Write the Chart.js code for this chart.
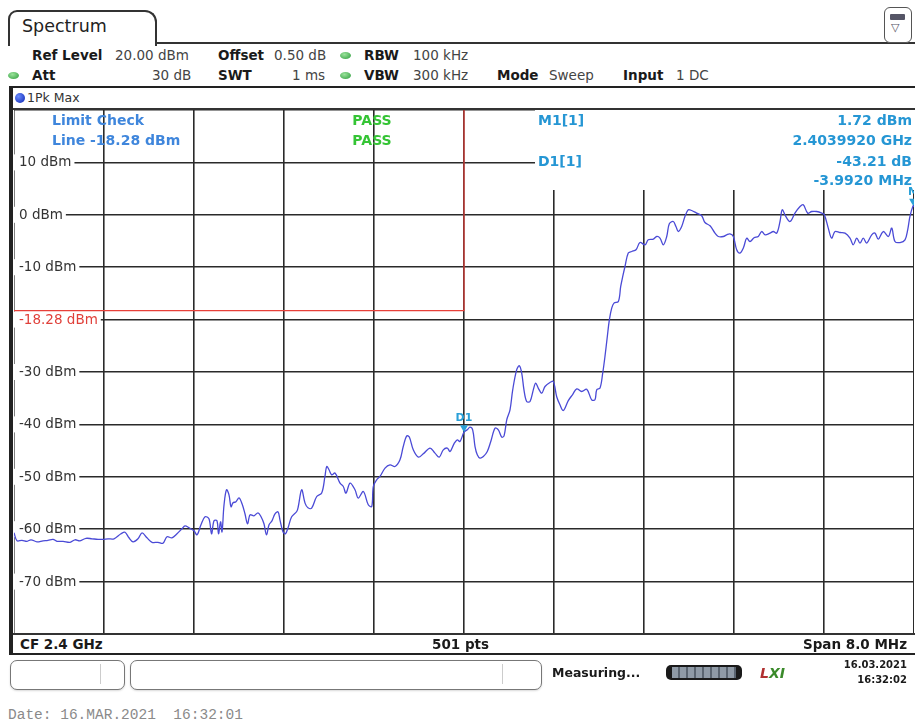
<!DOCTYPE html>
<html>
<head>
<meta charset="utf-8">
<script src="https://cdn.jsdelivr.net/npm/chart.js@4"></script>
<style>
  body { margin: 0; width: 915px; height: 723px; background: #fff; position: relative; overflow: hidden;
         font-family: "DejaVu Sans", Verdana, sans-serif; color: #222; }
  .t { position: absolute; white-space: nowrap; line-height: 1; }
  .b { font-weight: bold; color: #1a1a1a; }
  .v { color: #444; }
  .h { font-size: 13.5px; }
  .dot { position: absolute; width: 11px; height: 7px; border-radius: 50%;
         background: radial-gradient(ellipse at 40% 35%, #9be39b, #2a9a3a); }
  #tab { position: absolute; left: 8px; top: 10px; width: 145px; height: 34px; border: 2px solid #333;
         border-bottom: none; border-radius: 9px 12px 0 0; background: #fff; }
  #plot { position: absolute; left: 14px; top: 110px; width: 900px; height: 524px; }
  .box { position: absolute; border: 1px solid #777; border-radius: 7px; background: #fff;
         box-shadow: 0 1px 2px rgba(0,0,0,0.15); }
</style>
</head>
<body>
<!-- tab + header -->
<div style="position:absolute;left:150px;top:42px;width:765px;height:2px;background:#333"></div>
<div id="tab"></div>
<div class="t" style="left:22px;top:18px;font-size:17.5px;color:#222">Spectrum</div>
<div style="position:absolute;left:884px;top:7px;width:26px;height:34px;border:1.5px solid #555;border-radius:6px;background:#fff"></div>
<div style="position:absolute;left:890px;top:14px;width:15px;height:6px;background:#556;border-radius:1px"></div>
<div class="t" style="left:891px;top:22px;font-size:11px;color:#556">&#9661;</div>

<div class="t h b" style="left:32px;top:49px">Ref Level</div>
<div class="t h v" style="left:115px;top:49px">20.00 dBm</div>
<div class="t h b" style="left:218px;top:49px">Offset</div>
<div class="t h v" style="left:274px;top:49px">0.50 dB</div>
<div class="dot" style="left:340px;top:52px"></div>
<div class="t h b" style="left:364px;top:49px">RBW</div>
<div class="t h v" style="left:413px;top:49px">100 kHz</div>

<div class="dot" style="left:8px;top:72px"></div>
<div class="t h b" style="left:32px;top:69px">Att</div>
<div class="t h v" style="left:152px;top:69px">30 dB</div>
<div class="t h b" style="left:218px;top:69px">SWT</div>
<div class="t h v" style="left:292px;top:69px">1 ms</div>
<div class="dot" style="left:340px;top:72px"></div>
<div class="t h b" style="left:364px;top:69px">VBW</div>
<div class="t h v" style="left:413px;top:69px">300 kHz</div>
<div class="t h b" style="left:497px;top:69px">Mode</div>
<div class="t h v" style="left:549px;top:69px">Sweep</div>
<div class="t h b" style="left:623px;top:69px">Input</div>
<div class="t h v" style="left:676px;top:69px">1 DC</div>

<!-- trace window frame -->
<div style="position:absolute;left:9px;top:86px;width:906px;height:2px;background:#222"></div>
<div style="position:absolute;left:9px;top:86px;width:4px;height:568px;background:#222"></div>
<div style="position:absolute;left:15px;top:93px;width:10px;height:10px;border-radius:50%;background:radial-gradient(circle at 35% 35%, #6a8cff, #0a22b0)"></div>
<div class="t" style="left:27px;top:92px;font-size:12.5px;color:#333">1Pk Max</div>
<div style="position:absolute;left:13px;top:108px;width:902px;height:2px;background:#333"></div>

<canvas id="plot" width="900" height="524"></canvas>

<div style="position:absolute;left:13px;top:633px;width:902px;height:2px;background:#333"></div>
<div style="position:absolute;left:9px;top:653px;width:906px;height:2px;background:#222"></div>
<div class="t b" style="left:20px;top:638px;font-size:13.5px">CF 2.4 GHz</div>
<div class="t b" style="left:432px;top:638px;font-size:13.5px">501 pts</div>
<div class="t b" style="right:8px;top:638px;font-size:13.5px">Span 8.0 MHz</div>

<!-- status bar -->
<div class="box" style="left:10px;top:660px;width:113px;height:28px"></div>
<div style="position:absolute;left:100px;top:664px;width:1px;height:20px;background:#ccc"></div>
<div class="box" style="left:130px;top:660px;width:410px;height:28px"></div>
<div style="position:absolute;left:502px;top:664px;width:1px;height:20px;background:#ccc"></div>
<div class="t b" style="left:552px;top:667px;font-size:12.5px">Measuring...</div>
<div style="position:absolute;left:666px;top:665px;width:76px;height:15px;border-radius:5px;background:#1a1a1a"></div>
<div style="position:absolute;left:672px;top:667px;width:64px;height:11px;background:repeating-linear-gradient(90deg,#8f9aa6 0 6px,#5a6470 6px 8px)"></div>
<div class="t" style="left:760px;top:666px;font-size:14px;font-weight:bold;font-style:italic;color:#3a8a2a"><span style="color:#b03030">L</span>XI</div>
<div class="t b" style="right:8px;top:660px;font-size:10px">16.03.2021</div>
<div class="t b" style="right:8px;top:675px;font-size:10px">16:32:02</div>

<div class="t" style="left:8px;top:708px;font-family:'Liberation Mono','DejaVu Sans Mono',monospace;font-size:14.5px;color:#8a8a8a">Date: 16.MAR.2021&nbsp; 16:32:01</div>

<script>
// sweep: 2.396 .. 2.404 GHz (CF 2.4 GHz, span 8 MHz), values in MHz / dBm
const freqMHz = [
  2396.000, 2396.027, 2396.071, 2396.116, 2396.151, 2396.204, 2396.258, 2396.302, 2396.347, 2396.382,
  2396.436, 2396.498, 2396.542, 2396.587, 2396.640, 2396.693, 2396.747, 2396.791, 2396.836, 2396.889,
  2396.951, 2396.987, 2397.022, 2397.058, 2397.102, 2397.138, 2397.182, 2397.227, 2397.280, 2397.324,
  2397.360, 2397.404, 2397.449, 2397.493, 2397.520, 2397.556, 2397.600, 2397.627, 2397.662, 2397.698,
  2397.733, 2397.756, 2397.778, 2397.804, 2397.818, 2397.836, 2397.849, 2397.867, 2397.889, 2397.911,
  2397.929, 2397.947, 2397.973, 2398.000, 2398.027, 2398.053, 2398.076, 2398.098, 2398.133, 2398.169,
  2398.196, 2398.222, 2398.244, 2398.267, 2398.293, 2398.320, 2398.347, 2398.364, 2398.391, 2398.413,
  2398.436, 2398.468, 2398.513, 2398.527, 2398.557, 2398.587, 2398.613, 2398.646, 2398.691, 2398.735,
  2398.764, 2398.780, 2398.800, 2398.824, 2398.853, 2398.898, 2398.927, 2398.951, 2398.987, 2399.031,
  2399.060, 2399.105, 2399.149, 2399.180, 2399.194, 2399.224, 2399.253, 2399.298, 2399.342, 2399.387,
  2399.431, 2399.460, 2399.491, 2399.514, 2399.549, 2399.594, 2399.638, 2399.698, 2399.742, 2399.780,
  2399.816, 2399.852, 2399.876, 2399.911, 2399.940, 2399.964, 2400.000, 2400.029, 2400.053, 2400.077,
  2400.098, 2400.118, 2400.142, 2400.172, 2400.207, 2400.238, 2400.276, 2400.305, 2400.335, 2400.356,
  2400.380, 2400.409, 2400.433, 2400.468, 2400.492, 2400.513, 2400.533, 2400.557, 2400.587, 2400.616,
  2400.637, 2400.660, 2400.691, 2400.720, 2400.764, 2400.794, 2400.824, 2400.853, 2400.883, 2400.927,
  2400.964, 2401.002, 2401.046, 2401.091, 2401.135, 2401.164, 2401.180, 2401.209, 2401.233, 2401.253,
  2401.274, 2401.292, 2401.313, 2401.333, 2401.372, 2401.393, 2401.411, 2401.431, 2401.460, 2401.491,
  2401.529, 2401.564, 2401.609, 2401.638, 2401.683, 2401.713, 2401.742, 2401.772, 2401.802, 2401.825,
  2401.860, 2401.884, 2401.905, 2401.935, 2401.964, 2401.994, 2402.024, 2402.068, 2402.113, 2402.142,
  2402.187, 2402.231, 2402.260, 2402.305, 2402.335, 2402.364, 2402.394, 2402.424, 2402.453, 2402.483,
  2402.513, 2402.542, 2402.578, 2402.616, 2402.646, 2402.676, 2402.720, 2402.749, 2402.780, 2402.809,
  2402.829, 2402.860, 2402.898, 2402.942, 2402.987, 2403.016, 2403.055, 2403.091, 2403.135, 2403.180,
  2403.203, 2403.238, 2403.268, 2403.298, 2403.342, 2403.387, 2403.431, 2403.460, 2403.491, 2403.520,
  2403.549, 2403.580, 2403.624, 2403.653, 2403.683, 2403.727, 2403.772, 2403.802, 2403.831, 2403.876,
  2403.920, 2403.944, 2403.964, 2403.992, 2404.000
];
const levelDbm = [
  -60.69, -62.21, -62.12, -62.31, -62.02, -62.40, -62.21, -62.12, -61.93, -62.31,
  -62.31, -62.50, -62.02, -62.21, -61.74, -61.83, -61.93, -61.93, -61.83, -61.83,
  -60.88, -60.59, -61.64, -62.40, -61.83, -60.69, -61.64, -62.50, -62.50, -62.69,
  -61.45, -61.64, -60.88, -59.92, -59.35, -59.73, -60.31, -61.07, -59.16, -57.63,
  -58.02, -60.88, -58.40, -58.40, -60.88, -58.59, -60.50, -55.34, -52.48, -53.44,
  -55.73, -54.96, -54.77, -54.01, -55.15, -57.06, -58.97, -57.25, -57.44, -56.87,
  -57.63, -58.97, -61.07, -59.16, -58.40, -57.06, -56.68, -58.21, -60.50, -60.88,
  -59.73, -57.63, -56.62, -55.67, -52.48, -55.02, -55.92, -55.97, -53.76, -53.11,
  -49.94, -48.03, -48.66, -49.62, -49.29, -51.20, -51.85, -53.11, -51.20, -52.48,
  -54.06, -52.81, -55.34, -55.67, -51.85, -50.57, -49.94, -48.34, -47.71, -48.03,
  -46.76, -44.22, -42.18, -42.42, -44.85, -46.24, -45.61, -44.52, -45.48, -46.24,
  -44.85, -44.52, -45.17, -43.70, -42.94, -43.26, -41.49, -41.03, -40.52, -41.03,
  -44.22, -45.80, -46.43, -46.13, -45.17, -43.26, -40.71, -41.03, -42.42, -42.18,
  -39.12, -37.21, -33.40, -29.58, -28.82, -30.21, -33.40, -35.63, -35.63, -33.40,
  -32.12, -33.07, -34.03, -32.77, -32.00, -31.81, -34.73, -36.26, -37.35, -35.46,
  -34.35, -33.21, -33.72, -33.30, -35.31, -35.31, -33.40, -33.07, -30.21, -27.04,
  -23.23, -20.04, -17.81, -16.85, -16.55, -13.68, -11.77, -9.87, -7.31, -7.00,
  -6.68, -5.29, -5.73, -4.77, -4.64, -4.14, -4.45, -5.73, -4.14, -1.72,
  -1.28, -2.23, -3.19, -2.23, -0.32, 0.95, 0.82, 0.32, -0.19, -1.47,
  -2.10, -3.49, -4.14, -4.14, -3.82, -3.63, -4.14, -6.68, -7.31, -6.35,
  -4.45, -5.10, -4.39, -4.14, -3.19, -3.82, -3.49, -3.19, -3.49, -1.28,
  0.95, -0.32, -1.28, 0.32, 1.58, 1.91, 0.32, 0.63, 0.63, 0.32,
  0.00, -2.54, -4.45, -3.19, -3.38, -3.49, -4.45, -5.73, -4.45, -5.40,
  -4.45, -5.40, -3.82, -3.49, -4.64, -3.19, -4.14, -2.54, -5.10, -5.29,
  -4.77, -2.86, -0.32, 1.72, 1.55
];

// limit line: -18.28 dBm up to the centre frequency, open above it
const limitFreq = [2396.0, 2400.0, 2400.0];
const limitLevel = [-18.28, -18.28, 20];

const yTickValues = [10, 0, -10, -20, -30, -40, -50, -60, -70];
const yTickLabels = ['10 dBm', '0 dBm', '-10 dBm', '-18.28 dBm', '-30 dBm', '-40 dBm', '-50 dBm', '-60 dBm', '-70 dBm'];

const markerNames = ['D1', 'M1'];
const markerFreq = [2400.000, 2403.992];
const markerLevel = [-41.49, 1.72];

const readoutLeft = ['M1[1]', 'D1[1]'];
const readoutRight = ['1.72 dBm', '2.4039920 GHz', '-43.21 dB', '-3.9920 MHz'];

const ref = document.getElementById('plot');

const overlay = {
  id: 'overlay',
  beforeDatasetsDraw(chart) {
    const { ctx, chartArea: a, scales: { y } } = chart;
    ctx.save();
    // white panel behind the marker readout (grid is hidden there)
    ctx.fillStyle = '#fff';
    ctx.fillRect(a.left + 521, a.top, a.right - a.left - 521, 80);

    // level labels sit on the grid lines
    ctx.font = '13.5px "DejaVu Sans"';
    ctx.textBaseline = 'middle';
    yTickValues.forEach((v, i) => {
      const py = y.getPixelForValue(v);
      const txt = yTickLabels[i];
      const w = ctx.measureText(txt).width;
      ctx.fillStyle = '#fff';
      ctx.fillRect(a.left, py - 8, w + 8, 16);
      ctx.fillStyle = txt.indexOf('18.28') >= 0 ? '#e0403a' : '#333';
      ctx.fillText(txt, a.left + 5, py + 0.5);
    });

    ctx.font = 'bold 14px "DejaVu Sans"';
    ctx.fillStyle = '#3f86dc';
    ctx.fillText('Limit Check', a.left + 38, a.top + 11);
    ctx.fillText('Line -18.28 dBm', a.left + 38, a.top + 31);
    ctx.fillStyle = '#35c435';
    ctx.textAlign = 'center';
    ctx.fillText('PASS', a.left + 358, a.top + 11);
    ctx.fillText('PASS', a.left + 358, a.top + 31);

    ctx.fillStyle = '#2596d4';
    ctx.textAlign = 'left';
    ctx.fillText(readoutLeft[0], a.left + 524, a.top + 11);
    ctx.fillText(readoutLeft[1], a.left + 524, a.top + 52);
    ctx.textAlign = 'right';
    readoutRight.forEach((s, i) => ctx.fillText(s, a.right - 2, a.top + [11, 31, 52, 71][i]));
    ctx.restore();
  },
  afterDatasetsDraw(chart) {
    const { ctx, scales: { x, y } } = chart;
    ctx.save();
    ctx.fillStyle = '#2aa0d8';
    ctx.font = 'bold 11px "DejaVu Sans"';
    ctx.textBaseline = 'middle';
    markerNames.forEach((n, i) => {
      const px = x.getPixelForValue(markerFreq[i]);
      const py = y.getPixelForValue(markerLevel[i]);
      ctx.beginPath();
      ctx.moveTo(px - 4, py - 7);
      ctx.lineTo(px + 4, py - 7);
      ctx.lineTo(px, py);
      ctx.closePath();
      ctx.fill();
      ctx.textAlign = i === 0 ? 'center' : 'left';
      ctx.fillText(n, i === 0 ? px : px - 5, py - 14);
    });
    ctx.restore();
  }
};

new Chart(ref, {
  type: 'line',
  data: {
    datasets: [
      {
        label: '1Pk Max',
        data: freqMHz.map((f, i) => ({ x: f, y: levelDbm[i] })),
        borderColor: '#4a4ad6',
        borderWidth: 1.3,
        pointRadius: 0,
        tension: 0.35
      },
      {
        label: 'Limit',
        data: limitFreq.map((f, i) => ({ x: f, y: limitLevel[i] })),
        borderColor: '#e8403a',
        borderWidth: 1.2,
        pointRadius: 0,
        tension: 0
      }
    ]
  },
  options: {
    responsive: false,
    animation: false,
    events: [],
    layout: { padding: 0 },
    plugins: { legend: { display: false }, tooltip: { enabled: false } },
    scales: {
      x: {
        type: 'linear', min: 2396, max: 2404,
        ticks: { display: false, stepSize: 0.8 },
        grid: { color: '#2a2a2a', lineWidth: 1.6, drawTicks: false },
        border: { display: false }
      },
      y: {
        min: -80, max: 20,
        ticks: { display: false, stepSize: 10 },
        grid: { color: '#2a2a2a', lineWidth: 1.6, drawTicks: false },
        border: { display: false }
      }
    }
  },
  plugins: [overlay]
});
</script>
</body>
</html>
